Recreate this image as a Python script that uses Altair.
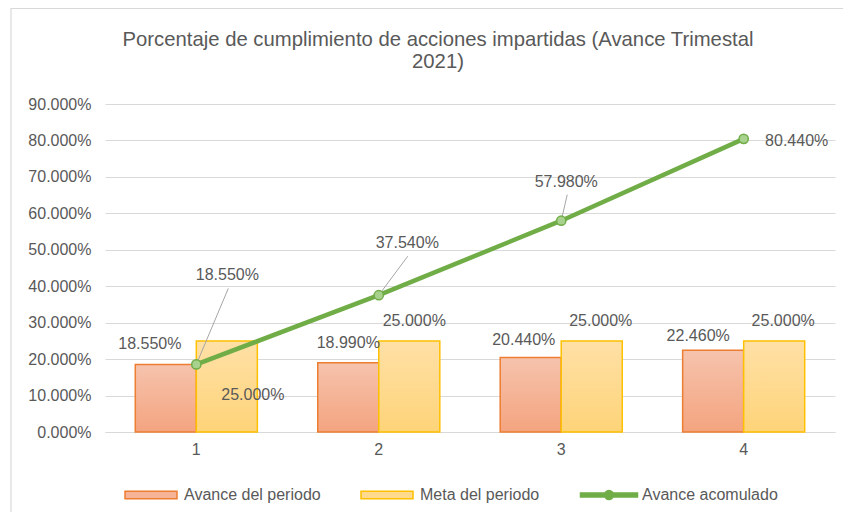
import altair as alt
import pandas as pd

# ---- data ----
periods = ["1", "2", "3", "4"]
avance_periodo = [0.1855, 0.1899, 0.2044, 0.2246]
meta_periodo = [0.25, 0.25, 0.25, 0.25]
avance_acumulado = [0.1855, 0.3754, 0.5798, 0.8044]
series = ["Avance del periodo", "Meta del periodo", "Avance acomulado"]
y_ticks = [0.0, 0.1, 0.2, 0.3, 0.4, 0.5, 0.6, 0.7, 0.8, 0.9]
title_lines = ["Porcentaje de cumplimiento de acciones impartidas (Avance Trimestal", "2021)"]

# ---- label placement (pixels, style only) ----
avance_lbl_dx = [-46.5, -30.5, -37.5, -45.5]
avance_lbl_dy = [-20, -20, -17.5, -14]
meta_lbl_dx = [56.5, 35.5, 39.5, 39.5]
meta_lbl_dy = [54, -20, -20, -20]
acum_lbl_dx = [31, 28.5, 5, 53]
acum_lbl_dy = [-89, -52, -39, 2]
leader_dx = [32, 29, 6]
leader_dy = [-76, -39, -26]
title_y = [-64, -42]

FONT = "Liberation Sans"
GRAY = "#595959"
GRID = "#D9D9D9"
FS = 16

bars = pd.DataFrame({
    "period": periods * 2,
    "serie": [series[0]] * 4 + [series[1]] * 4,
    "value": avance_periodo + meta_periodo,
})
line_df = pd.DataFrame({"period": periods, "serie": series[2], "value": avance_acumulado})
legend_df = pd.DataFrame({"serie": series})

x_enc = alt.X("period:N", sort=periods,
              scale=alt.Scale(paddingInner=0.331, paddingOuter=0.166),
              axis=alt.Axis(title=None, labelAngle=0, ticks=False, tickSize=0, labelPadding=9,
                            domain=True, domainColor=GRID, domainWidth=1, grid=False,
                            labelFontSize=FS, labelColor=GRAY, labelFont=FONT))
y_enc = alt.Y("value:Q",
              scale=alt.Scale(domain=[0, 0.9], nice=False, zero=True),
              axis=alt.Axis(title=None, values=y_ticks, format=".3%", grid=True, gridColor=GRID,
                            gridWidth=1, domain=False, ticks=False, tickSize=0, labelPadding=14,
                            labelOverlap=False, labelFontSize=FS, labelColor=GRAY, labelFont=FONT))
xoff = alt.XOffset("serie:N", scale=alt.Scale(domain=series[:2], paddingInner=0, paddingOuter=0))

orange_grad = alt.LinearGradient(gradient="linear", x1=0, x2=0, y1=0, y2=1,
                                 stops=[alt.GradientStop(offset=0, color="#F6C3AD"),
                                        alt.GradientStop(offset=1, color="#F4A47F")])
yellow_grad = alt.LinearGradient(gradient="linear", x1=0, x2=0, y1=0, y2=1,
                                 stops=[alt.GradientStop(offset=0, color="#FFE0A6"),
                                        alt.GradientStop(offset=1, color="#FED479")])

layers = []

base_bars = alt.Chart(bars)
layers.append(base_bars.transform_filter(alt.datum.serie == series[0]).mark_bar(
    color=orange_grad, stroke="#ED7D31", strokeWidth=1.5).encode(x=x_enc, y=y_enc, xOffset=xoff))
layers.append(base_bars.transform_filter(alt.datum.serie == series[1]).mark_bar(
    color=yellow_grad, stroke="#FFC000", strokeWidth=1.5).encode(x=x_enc, y=y_enc, xOffset=xoff))

# bar labels
for i, p in enumerate(periods):
    for ser, dxs, dys in [(series[0], avance_lbl_dx, avance_lbl_dy), (series[1], meta_lbl_dx, meta_lbl_dy)]:
        layers.append(base_bars.transform_filter(
            (alt.datum.serie == ser) & (alt.datum.period == p)
        ).mark_text(dx=dxs[i], dy=dys[i], font=FONT, fontSize=FS, color=GRAY,
                    align="center", baseline="middle").encode(
            x=x_enc, y=y_enc, text=alt.Text("value:Q", format=".3%")))

base_line = alt.Chart(line_df)
# leader lines
for i in range(len(leader_dx)):
    layers.append(base_line.transform_filter(alt.datum.period == periods[i]).mark_rule(
        color="#A6A6A6", strokeWidth=1, x2Offset=leader_dx[i], y2Offset=leader_dy[i]).encode(
        x=x_enc, x2="period:N", y=y_enc, y2="value:Q"))

layers.append(base_line.mark_line(color="#70AD47", strokeWidth=4.5).encode(x=x_enc, y=y_enc))
layers.append(base_line.mark_point(filled=True, fill="#A9D18E", stroke="#70AD47", strokeWidth=1.5,
                                   size=85, opacity=1).encode(x=x_enc, y=y_enc))

for i, p in enumerate(periods):
    layers.append(base_line.transform_filter(alt.datum.period == p).mark_text(
        dx=acum_lbl_dx[i], dy=acum_lbl_dy[i], font=FONT, fontSize=FS, color=GRAY,
        align="center", baseline="middle").encode(
        x=x_enc, y=y_enc, text=alt.Text("value:Q", format=".3%")))

# title lines and chart-area border (decoration)
one = pd.DataFrame({"k": [0]})
for txt, ty in zip(title_lines, title_y):
    layers.append(alt.Chart(one).mark_text(font=FONT, fontSize=20.3, color=GRAY, align="center",
                                           baseline="middle").encode(
        x=alt.value(333), y=alt.value(ty), text=alt.value(txt)))
layers.append(alt.Chart(one).mark_rect(fill=None, stroke=GRID, strokeWidth=1.2).encode(
    x=alt.value(-94), x2=alt.value(900), y=alt.value(-95.5), y2=alt.value(600)))

# legend (hidden clipped points; legend drawn from encodings)
leg = alt.Legend(title=None, orient="none", legendX=19, legendY=364, direction="horizontal",
                 columns=3, columnPadding=37, labelOffset=6, labelFont=FONT, labelFontSize=16,
                 labelColor=GRAY, symbolSize=2704, symbolStrokeWidth=1.5, padding=0,
                 symbolOpacity=1)
rect_path = "M-1,-0.14H1V0.14H-1Z"
line_path = ("M-1.096,-0.08H1.096V0.08H-1.096Z "
             "M0.17,0 A0.17,0.17 0 1,1 -0.17,0 A0.17,0.17 0 1,1 0.17,0 Z")
layers.append(alt.Chart(legend_df).mark_point(filled=True, opacity=1, clip=True, strokeWidth=1.5).encode(
    x=alt.value(0), y=alt.value(-500),
    fill=alt.Fill("serie:N", sort=series, scale=alt.Scale(domain=series, range=["#F5B398", "#FFD98E", "#70AD47"]), legend=leg),
    stroke=alt.Stroke("serie:N", sort=series, scale=alt.Scale(domain=series, range=["#ED7D31", "#FFC000", "#70AD47"]), legend=leg),
    shape=alt.Shape("serie:N", sort=series, scale=alt.Scale(domain=series, range=[rect_path, rect_path, line_path]), legend=leg),
))

chart = alt.layer(*layers).properties(
    width=730, height=328,
    background="white",
    autosize=alt.AutoSizeParams(type="none"),
    padding={"left": 97, "top": 96, "right": 8, "bottom": 80},
).configure_view(stroke=None)

chart.save("out.html", embed_options={"renderer": "svg", "actions": False})
